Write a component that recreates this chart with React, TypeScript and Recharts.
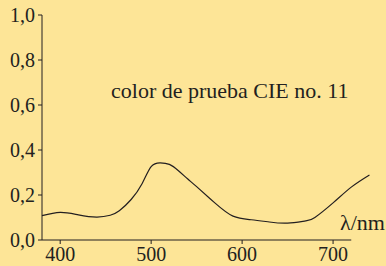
import React from "react";
import {
  Customized,
  Line,
  LineChart,
  ReferenceLine,
  XAxis,
  YAxis,
} from "recharts";

// longitud de onda (nm) y factor de reflexión
const wavelengths = [380, 400, 420, 440, 455, 465, 478, 490, 500, 510, 520, 530, 540, 550, 570, 590, 610, 630, 650, 670, 680, 700, 720, 740];
const reflectance = [0.108, 0.123, 0.112, 0.102, 0.11, 0.13, 0.18, 0.25, 0.326, 0.343, 0.336, 0.308, 0.272, 0.237, 0.165, 0.106, 0.09, 0.08, 0.075, 0.085, 0.1, 0.165, 0.235, 0.289];

const xTicks = [400, 500, 600, 700];
const yTicks = [0, 0.2, 0.4, 0.6, 0.8, 1.0];

const title = "color de prueba CIE no. 11";
const axisName = "λ/nm";

const data = wavelengths.map((w, i) => ({ w, r: reflectance[i] }));

const ink = "#231f20";
const font = "Liberation Serif";

const App: React.FC = () => {
  return (
    <div
      style={{
        position: "absolute",
        left: 0,
        top: 0,
        width: 386,
        height: 266,
        background: "#fde597",
        fontFamily: font,
      }}
    >
      <LineChart
        width={386}
        height={266}
        data={data}
        margin={{ top: 15, right: 12, left: 0, bottom: 0 }}
        style={{ fontFamily: font }}
      >
        <XAxis
          dataKey="w"
          type="number"
          domain={[380, 745]}
          ticks={xTicks}
          axisLine={false}
          tickSize={4}
          tickMargin={3}
          height={26}
          stroke={ink}
          tick={{ fill: ink, fontSize: 20, fontFamily: font }}
        />
        <YAxis
          type="number"
          domain={[0, 1]}
          ticks={yTicks}
          width={42}
          tickSize={4}
          tickMargin={3}
          stroke={ink}
          axisLine={{ stroke: ink }}
          tick={{ fill: ink, fontSize: 20, fontFamily: font }}
          tickFormatter={(v: number) => v.toFixed(1).replace(".", ",")}
        />
        <ReferenceLine
          segment={[{ x: 380, y: 0 }, { x: 720, y: 0 }]}
          stroke={ink}
          ifOverflow="visible"
        />
        <Line
          type="natural"
          dataKey="r"
          stroke={ink}
          strokeWidth={1.2}
          dot={false}
          isAnimationActive={false}
        />
        <Customized
          component={() => (
            <g fill={ink}>
              <text x={111} y={98} fontSize={22} fontFamily={font}>{title}</text>
              <text x={385} y={230} fontSize={22} fontFamily={font} textAnchor="end">{axisName}</text>
            </g>
          )}
        />
      </LineChart>
    </div>
  );
};

export default App;
